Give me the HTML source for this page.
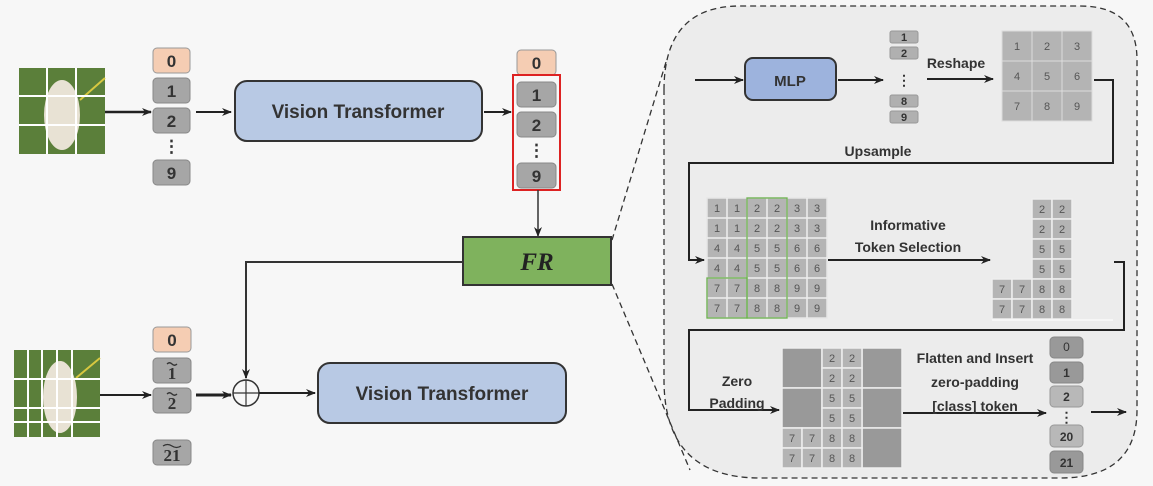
<!DOCTYPE html>
<html><head><meta charset="utf-8"><style>
body{margin:0;background:#f7f7f7}
svg{display:block;font-family:"Liberation Sans",sans-serif}
.b{font-weight:bold;fill:#333}
</style></head><body>
<svg width="1153" height="486" viewBox="0 0 1153 486" xmlns="http://www.w3.org/2000/svg">
<defs>
<marker id="a" markerWidth="10" markerHeight="10" refX="9" refY="5" orient="auto" markerUnits="userSpaceOnUse"><path d="M0,1 L10,5 L0,9 L3,5 z" fill="#222"/></marker>
</defs>
<rect width="1153" height="486" fill="#f7f7f7"/>
<path d="M664,90 Q664,6 740,6 L1080,6 Q1137,6 1137,60 L1137,410 Q1137,478 1060,478 L760,478 Q664,478 664,380 Z" fill="#ececec" stroke="#333" stroke-width="1.3" stroke-dasharray="6,4"/>
<line x1="612" y1="240" x2="666" y2="62" stroke="#333" stroke-width="1.3" stroke-dasharray="6,4"/>
<line x1="612" y1="284" x2="690" y2="470" stroke="#333" stroke-width="1.3" stroke-dasharray="6,4"/>

<rect x="19" y="68" width="86" height="86" fill="#5b7f3a"/>
<ellipse cx="62" cy="115" rx="18" ry="35" fill="#e8e2d4"/>
<line x1="80" y1="100" x2="105" y2="78" stroke="#d8c840" stroke-width="2"/>
<g stroke="#fff" stroke-width="2"><line x1="47" y1="68" x2="47" y2="154"/><line x1="76" y1="68" x2="76" y2="154"/><line x1="19" y1="96" x2="105" y2="96"/><line x1="19" y1="125" x2="105" y2="125"/></g>
<line x1="105" y1="112" x2="151" y2="112" stroke="#222" stroke-width="2.5" marker-end="url(#a)"/>
<g font-size="17" font-weight="bold" fill="#333" text-anchor="middle">
<rect x="153" y="48" width="37" height="25" rx="4" fill="#f5cdb3" stroke="#999"/><text x="171.5" y="67">0</text>
<rect x="153" y="78" width="37" height="25" rx="4" fill="#a6a6a6" stroke="#888"/><text x="171.5" y="97">1</text>
<rect x="153" y="108" width="37" height="25" rx="4" fill="#a6a6a6" stroke="#888"/><text x="171.5" y="127">2</text>
<text x="171.5" y="152">⋮</text>
<rect x="153" y="160" width="37" height="25" rx="4" fill="#a6a6a6" stroke="#888"/><text x="171.5" y="179">9</text>
</g>
<line x1="196" y1="112" x2="231" y2="112" stroke="#222" stroke-width="2" marker-end="url(#a)"/>
<rect x="235" y="81" width="247" height="60" rx="12" fill="#b8c9e4" stroke="#333" stroke-width="2"/>
<text x="358" y="118" font-size="19" class="b" text-anchor="middle">Vision Transformer</text>
<line x1="484" y1="112" x2="511" y2="112" stroke="#222" stroke-width="2" marker-end="url(#a)"/>
<g font-size="17" font-weight="bold" fill="#333" text-anchor="middle">
<rect x="517" y="50" width="39" height="25" rx="4" fill="#f5cdb3" stroke="#999"/><text x="536.5" y="69">0</text>
<rect x="517" y="82" width="39" height="25" rx="4" fill="#a6a6a6" stroke="#888"/><text x="536.5" y="101">1</text>
<rect x="517" y="112" width="39" height="25" rx="4" fill="#a6a6a6" stroke="#888"/><text x="536.5" y="131">2</text>
<text x="536.5" y="156">⋮</text>
<rect x="517" y="163" width="39" height="25" rx="4" fill="#a6a6a6" stroke="#888"/><text x="536.5" y="182">9</text>
</g>
<rect x="513" y="75" width="47" height="115" fill="none" stroke="#d22" stroke-width="2"/>
<line x1="538" y1="190" x2="538" y2="236" stroke="#333" stroke-width="1.5" marker-end="url(#a)"/>
<rect x="463" y="237" width="148" height="48" fill="#7fb25d" stroke="#333" stroke-width="2"/>
<text x="537" y="270" font-size="25" font-weight="bold" font-style="italic" font-family="Liberation Serif,serif" fill="#222" text-anchor="middle">FR</text>
<polyline points="463,262 246,262 246,378" fill="none" stroke="#333" stroke-width="2" marker-end="url(#a)"/>

<rect x="14" y="350" width="86" height="87" fill="#5b7f3a"/>
<ellipse cx="60" cy="397" rx="17" ry="36" fill="#e8e2d4"/>
<line x1="76" y1="378" x2="100" y2="358" stroke="#d8c840" stroke-width="2"/>
<g stroke="#fff" stroke-width="2"><line x1="28" y1="350" x2="28" y2="437"/><line x1="42" y1="350" x2="42" y2="437"/><line x1="57" y1="350" x2="57" y2="437"/><line x1="72" y1="350" x2="72" y2="437"/><line x1="14" y1="379" x2="100" y2="379"/><line x1="14" y1="408" x2="100" y2="408"/><line x1="14" y1="422" x2="100" y2="422"/></g>
<line x1="100" y1="395" x2="151" y2="395" stroke="#222" stroke-width="2" marker-end="url(#a)"/>
<g font-size="17" font-weight="bold" fill="#333" text-anchor="middle" font-family="Liberation Serif,serif">
<rect x="153" y="327" width="38" height="25" rx="4" fill="#f5cdb3" stroke="#999"/><text x="172" y="346" font-family="Liberation Sans,sans-serif">0</text>
<rect x="153" y="358" width="38" height="25" rx="4" fill="#a6a6a6" stroke="#888"/><text x="172" y="379">1</text>
<rect x="153" y="388" width="38" height="25" rx="4" fill="#a6a6a6" stroke="#888"/><text x="172" y="409">2</text>
<rect x="153" y="440" width="38" height="25" rx="4" fill="#a6a6a6" stroke="#888"/><text x="172" y="461">21</text>
</g>
<g fill="none" stroke="#333" stroke-width="1.3">
<path d="M167,364 q2.5,-2.5 5,0 t5,0"/>
<path d="M167,394 q2.5,-2.5 5,0 t5,0"/>
<path d="M163,446 q4.5,-3 9,0 t9,0"/>
</g>
<line x1="196" y1="395" x2="231" y2="395" stroke="#222" stroke-width="3" marker-end="url(#a)"/>
<circle cx="246" cy="393" r="13" fill="none" stroke="#333" stroke-width="1.5"/>
<line x1="233" y1="393" x2="259" y2="393" stroke="#333" stroke-width="1.2"/><line x1="246" y1="380" x2="246" y2="406" stroke="#333" stroke-width="1.2"/>
<line x1="259" y1="393" x2="315" y2="393" stroke="#222" stroke-width="2" marker-end="url(#a)"/>
<rect x="318" y="363" width="248" height="60" rx="12" fill="#b8c9e4" stroke="#333" stroke-width="2"/>
<text x="442" y="400" font-size="19" class="b" text-anchor="middle">Vision Transformer</text>

<line x1="695" y1="80" x2="743" y2="80" stroke="#222" stroke-width="2" marker-end="url(#a)"/>
<rect x="745" y="58" width="91" height="42" rx="8" fill="#9db3dd" stroke="#333" stroke-width="2"/>
<text x="790" y="86" font-size="15" class="b" text-anchor="middle">MLP</text>
<line x1="838" y1="80" x2="883" y2="80" stroke="#222" stroke-width="2" marker-end="url(#a)"/>
<g font-size="11" font-weight="bold" fill="#333" text-anchor="middle">
<rect x="890" y="31" width="28" height="12" rx="2" fill="#b0b0b0" stroke="#999"/><text x="904" y="41">1</text>
<rect x="890" y="47" width="28" height="12" rx="2" fill="#b0b0b0" stroke="#999"/><text x="904" y="57">2</text>
<text x="904" y="85" font-size="14">⋮</text>
<rect x="890" y="95" width="28" height="12" rx="2" fill="#b0b0b0" stroke="#999"/><text x="904" y="105">8</text>
<rect x="890" y="111" width="28" height="12" rx="2" fill="#b0b0b0" stroke="#999"/><text x="904" y="121">9</text>
</g>
<text x="956" y="68" font-size="14" class="b" text-anchor="middle">Reshape</text>
<line x1="927" y1="79" x2="993" y2="79" stroke="#222" stroke-width="2" marker-end="url(#a)"/>
<g stroke="#ddd" stroke-width="1" fill="#b4b4b4">
<rect x="1002" y="31" width="30" height="30"/><rect x="1032" y="31" width="30" height="30"/><rect x="1062" y="31" width="30" height="30"/>
<rect x="1002" y="61" width="30" height="30"/><rect x="1032" y="61" width="30" height="30"/><rect x="1062" y="61" width="30" height="30"/>
<rect x="1002" y="91" width="30" height="30"/><rect x="1032" y="91" width="30" height="30"/><rect x="1062" y="91" width="30" height="30"/>
</g>
<g font-size="11" fill="#555" text-anchor="middle">
<text x="1017" y="50">1</text><text x="1047" y="50">2</text><text x="1077" y="50">3</text>
<text x="1017" y="80">4</text><text x="1047" y="80">5</text><text x="1077" y="80">6</text>
<text x="1017" y="110">7</text><text x="1047" y="110">8</text><text x="1077" y="110">9</text>
</g>
<polyline points="1094,80 1113,80 1113,163 689,163 689,260 704,260" fill="none" stroke="#222" stroke-width="2" marker-end="url(#a)"/>
<text x="878" y="156" font-size="14" class="b" text-anchor="middle">Upsample</text>

<rect x="707" y="198" width="120" height="120" fill="#b4b4b4" stroke="#e6e6e6" stroke-width="1.5"/>
<g stroke="#eee" stroke-width="1.5">
<line x1="727" y1="198" x2="727" y2="318"/><line x1="747" y1="198" x2="747" y2="318"/><line x1="767" y1="198" x2="767" y2="318"/><line x1="787" y1="198" x2="787" y2="318"/><line x1="807" y1="198" x2="807" y2="318"/>
<line x1="707" y1="218" x2="827" y2="218"/><line x1="707" y1="238" x2="827" y2="238"/><line x1="707" y1="258" x2="827" y2="258"/><line x1="707" y1="278" x2="827" y2="278"/><line x1="707" y1="298" x2="827" y2="298"/>
</g>
<g font-size="11" fill="#555" text-anchor="middle">
<text x="717" y="212">1</text><text x="737" y="212">1</text><text x="757" y="212">2</text><text x="777" y="212">2</text><text x="797" y="212">3</text><text x="817" y="212">3</text>
<text x="717" y="232">1</text><text x="737" y="232">1</text><text x="757" y="232">2</text><text x="777" y="232">2</text><text x="797" y="232">3</text><text x="817" y="232">3</text>
<text x="717" y="252">4</text><text x="737" y="252">4</text><text x="757" y="252">5</text><text x="777" y="252">5</text><text x="797" y="252">6</text><text x="817" y="252">6</text>
<text x="717" y="272">4</text><text x="737" y="272">4</text><text x="757" y="272">5</text><text x="777" y="272">5</text><text x="797" y="272">6</text><text x="817" y="272">6</text>
<text x="717" y="292">7</text><text x="737" y="292">7</text><text x="757" y="292">8</text><text x="777" y="292">8</text><text x="797" y="292">9</text><text x="817" y="292">9</text>
<text x="717" y="312">7</text><text x="737" y="312">7</text><text x="757" y="312">8</text><text x="777" y="312">8</text><text x="797" y="312">9</text><text x="817" y="312">9</text>
</g>
<rect x="747" y="198" width="40" height="120" fill="none" stroke="#6ab04c" stroke-width="1.3"/>
<rect x="707" y="278" width="40" height="40" fill="none" stroke="#6ab04c" stroke-width="1.3"/>
<line x1="828" y1="260" x2="990" y2="260" stroke="#222" stroke-width="2" marker-end="url(#a)"/>
<text x="908" y="230" font-size="14" class="b" text-anchor="middle">Informative</text>
<text x="908" y="252" font-size="14" class="b" text-anchor="middle">Token Selection</text>

<g fill="#b4b4b4" stroke="#eee" stroke-width="1.5">
<rect x="1032" y="199" width="20" height="20"/><rect x="1052" y="199" width="20" height="20"/>
<rect x="1032" y="219" width="20" height="20"/><rect x="1052" y="219" width="20" height="20"/>
<rect x="1032" y="239" width="20" height="20"/><rect x="1052" y="239" width="20" height="20"/>
<rect x="1032" y="259" width="20" height="20"/><rect x="1052" y="259" width="20" height="20"/>
<rect x="992" y="279" width="20" height="20"/><rect x="1012" y="279" width="20" height="20"/><rect x="1032" y="279" width="20" height="20"/><rect x="1052" y="279" width="20" height="20"/>
<rect x="992" y="299" width="20" height="20"/><rect x="1012" y="299" width="20" height="20"/><rect x="1032" y="299" width="20" height="20"/><rect x="1052" y="299" width="20" height="20"/>
</g>
<g font-size="11" fill="#555" text-anchor="middle">
<text x="1042" y="213">2</text><text x="1062" y="213">2</text><text x="1042" y="233">2</text><text x="1062" y="233">2</text>
<text x="1042" y="253">5</text><text x="1062" y="253">5</text><text x="1042" y="273">5</text><text x="1062" y="273">5</text>
<text x="1002" y="293">7</text><text x="1022" y="293">7</text><text x="1042" y="293">8</text><text x="1062" y="293">8</text>
<text x="1002" y="313">7</text><text x="1022" y="313">7</text><text x="1042" y="313">8</text><text x="1062" y="313">8</text>
</g>
<line x1="992" y1="320" x2="1113" y2="320" stroke="#fff" stroke-width="1"/>
<polyline points="1114,262 1124,262 1124,330 689,330 689,410 779,410" fill="none" stroke="#222" stroke-width="2" marker-end="url(#a)"/>
<text x="737" y="386" font-size="14" class="b" text-anchor="middle">Zero</text>
<text x="737" y="408" font-size="14" class="b" text-anchor="middle">Padding</text>

<g fill="#999" stroke="#eee" stroke-width="1.5">
<rect x="782" y="348" width="40" height="40"/><rect x="782" y="388" width="40" height="40"/>
<rect x="862" y="348" width="40" height="40"/><rect x="862" y="388" width="40" height="40"/><rect x="862" y="428" width="40" height="40"/>
</g>
<g fill="#b4b4b4" stroke="#eee" stroke-width="1.5">
<rect x="822" y="348" width="20" height="20"/><rect x="842" y="348" width="20" height="20"/>
<rect x="822" y="368" width="20" height="20"/><rect x="842" y="368" width="20" height="20"/>
<rect x="822" y="388" width="20" height="20"/><rect x="842" y="388" width="20" height="20"/>
<rect x="822" y="408" width="20" height="20"/><rect x="842" y="408" width="20" height="20"/>
<rect x="782" y="428" width="20" height="20"/><rect x="802" y="428" width="20" height="20"/><rect x="822" y="428" width="20" height="20"/><rect x="842" y="428" width="20" height="20"/>
<rect x="782" y="448" width="20" height="20"/><rect x="802" y="448" width="20" height="20"/><rect x="822" y="448" width="20" height="20"/><rect x="842" y="448" width="20" height="20"/>
</g>
<g font-size="11" fill="#555" text-anchor="middle">
<text x="832" y="362">2</text><text x="852" y="362">2</text><text x="832" y="382">2</text><text x="852" y="382">2</text>
<text x="832" y="402">5</text><text x="852" y="402">5</text><text x="832" y="422">5</text><text x="852" y="422">5</text>
<text x="792" y="442">7</text><text x="812" y="442">7</text><text x="832" y="442">8</text><text x="852" y="442">8</text>
<text x="792" y="462">7</text><text x="812" y="462">7</text><text x="832" y="462">8</text><text x="852" y="462">8</text>
</g>
<line x1="903" y1="413" x2="1046" y2="413" stroke="#222" stroke-width="2" marker-end="url(#a)"/>
<text x="975" y="363" font-size="14" class="b" text-anchor="middle">Flatten and Insert</text>
<text x="975" y="387" font-size="14" class="b" text-anchor="middle">zero-padding</text>
<text x="975" y="411" font-size="14" class="b" text-anchor="middle">[class] token</text>
<g font-size="12" font-weight="bold" fill="#333" text-anchor="middle">
<rect x="1050" y="337" width="33" height="21" rx="4" fill="#999" stroke="#888"/><text x="1066.5" y="351" font-weight="normal">0</text>
<rect x="1050" y="362" width="33" height="21" rx="4" fill="#999" stroke="#888"/><text x="1066.5" y="377">1</text>
<rect x="1050" y="386" width="33" height="21" rx="4" fill="#b8b8b8" stroke="#999"/><text x="1066.5" y="401">2</text>
<text x="1066.5" y="422" font-size="14">⋮</text>
<rect x="1050" y="425" width="33" height="22" rx="4" fill="#b8b8b8" stroke="#999"/><text x="1066.5" y="441">20</text>
<rect x="1050" y="451" width="33" height="22" rx="4" fill="#999" stroke="#888"/><text x="1066.5" y="467">21</text>
</g>
<line x1="1091" y1="412" x2="1126" y2="412" stroke="#222" stroke-width="2" marker-end="url(#a)"/>
</svg>
</body></html>
